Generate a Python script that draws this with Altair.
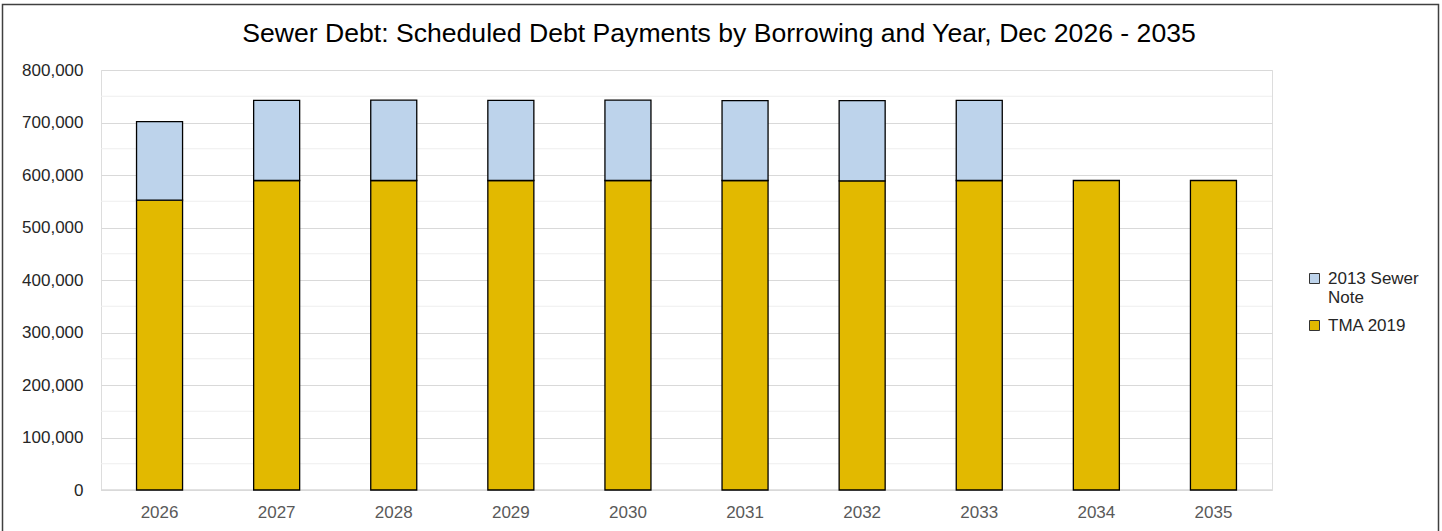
import altair as alt
import pandas as pd

years = ["2026", "2027", "2028", "2029", "2030", "2031", "2032", "2033", "2034", "2035"]
tma_2019 = [552000, 589500, 589500, 589500, 589500, 589500, 589000, 589500, 589500, 589500]
sewer_note = [149500, 152500, 153000, 152500, 153000, 152000, 152500, 152500, 0, 0]
series_names = ["2013 Sewer Note", "TMA 2019"]
y_ticks = [0, 100000, 200000, 300000, 400000, 500000, 600000, 700000, 800000]
minor_ticks = [50000, 150000, 250000, 350000, 450000, 550000, 650000, 750000]
title_text = "Sewer Debt: Scheduled Debt Payments by Borrowing and Year, Dec 2026 - 2035"

rows = []
for yr, t, s in zip(years, tma_2019, sewer_note):
    if t > 0:
        rows.append({"Year": yr, "Series": "TMA 2019", "Value": t, "ord": 0})
    if s > 0:
        rows.append({"Year": yr, "Series": "2013 Sewer Note", "Value": s, "ord": 1})
df = pd.DataFrame(rows)

W, H = 1171, 420
FONT = "Liberation Sans"

xscale = alt.Scale(domain=years, paddingInner=0.607, paddingOuter=0.3035)
yscale = alt.Scale(domain=[0, 800000], nice=False)

yaxis = alt.Axis(title=None, values=y_ticks, format=",d", ticks=False,
                 domain=False, grid=True, gridColor="#D9D9D9",
                 labelFont=FONT, labelFontSize=17, labelColor="#262626",
                 labelPadding=18)

minor = alt.Chart(pd.DataFrame({"v": minor_ticks})).mark_rule(
    color="#EEEEEE", strokeWidth=1
).encode(y=alt.Y("v:Q", scale=yscale, axis=yaxis))

zero = alt.Chart(pd.DataFrame({"v": [0]})).mark_rule(color="#D9D9D9", strokeWidth=1.5).encode(
    y=alt.Y("v:Q", scale=yscale, axis=yaxis))

bars = alt.Chart(df).mark_bar(stroke="#000000", strokeWidth=1.3).encode(
    x=alt.X("Year:N", scale=xscale, sort=years,
            axis=alt.Axis(title=None, labelAngle=0, ticks=False, domain=False,
                          labelFont=FONT, labelFontSize=17, labelColor="#595959",
                          labelPadding=14, grid=False)),
    y=alt.Y("Value:Q", stack="zero", scale=yscale, axis=yaxis),
    color=alt.Color("Series:N",
                    scale=alt.Scale(domain=series_names, range=["#BDD3EB", "#E2B900"]),
                    legend=alt.Legend(title=None, orient="none", legendX=1205, legendY=200,
                                      symbolType="square", symbolSize=100,
                                      symbolStrokeColor="#333333", symbolStrokeWidth=1,
                                      labelFont=FONT, labelFontSize=17, labelColor="#262626",
                                      labelOffset=5, rowPadding=10, labelLimit=200,
                                      labelExpr="datum.label == '2013 Sewer Note' ? ['2013 Sewer', 'Note'] : datum.label")),
    order=alt.Order("ord:Q"),
)

frame = alt.Chart(pd.DataFrame({"a": [1]})).mark_rect(
    fill=None, stroke="#404040", strokeWidth=1.5
).encode(
    x=alt.value(-98.5), x2=alt.value(1337.5), y=alt.value(-65.5), y2=alt.value(480)
)

title = alt.Chart(pd.DataFrame({"t": [title_text]})).mark_text(
    font=FONT, fontSize=26.6, color="#000000", align="center", baseline="alphabetic"
).encode(text="t:N", x=alt.value(618), y=alt.value(-28))

chart = alt.layer(minor, zero, bars, frame, title).properties(
    width=W, height=H,
    autosize=alt.AutoSizeParams(type="none"),
    padding={"left": 101, "top": 70, "right": 170, "bottom": 41},
).configure_view(stroke=None).configure(background="white")

chart.save("out.html", embed_options={"renderer": "svg", "actions": False})
